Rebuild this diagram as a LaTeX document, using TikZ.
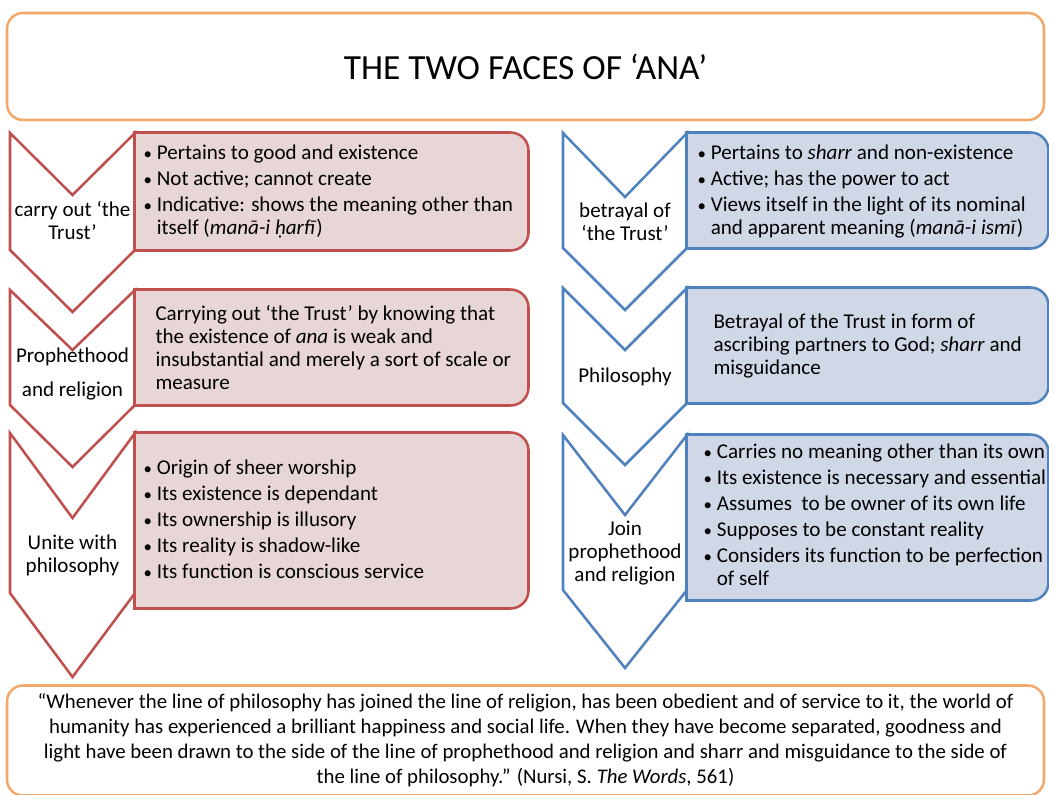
\documentclass[tikz,border=0pt]{standalone}
\usepackage{fontspec}
\setmainfont{Carlito}

\definecolor{chevred}{RGB}{192,80,77}
\definecolor{boxred}{RGB}{231,214,213}
\definecolor{chevblue}{RGB}{79,129,189}
\definecolor{boxblue}{RGB}{208,216,232}
\definecolor{frameorange}{RGB}{243,168,108}

\newcommand{\bodyfont}{\fontsize{15.8}{17.25}\selectfont}
\newcommand{\bitem}{\makebox[10pt][l]{\scalebox{0.8}{\textbullet}}}
\newcommand{\bcont}{\hspace*{10pt}}

\tikzset{
  every picture/.style={line width=0.75pt},
  redchev/.style={draw=chevred, line width=1.9pt, fill=white},
  bluechev/.style={draw=chevblue, line width=1.9pt, fill=white},
  redbox/.style={draw=chevred, line width=1.9pt, fill=boxred},
  bluebox/.style={draw=chevblue, line width=1.9pt, fill=boxblue},
  boxslot/.style={draw=none, inner sep=0pt},
  chevlabel/.style={align=center, inner sep=0pt, font=\bodyfont},
  boxtext/.style={anchor=west, align=left, inner sep=0pt, font=\bodyfont},
  framebox/.style={draw=frameorange, line width=1.9pt, fill=white, rounded corners=12pt, align=center, inner sep=0pt}
}

\begin{document}
\begin{tikzpicture}[x=0.75pt,y=0.75pt,yscale=-1,xscale=1]
\useasboundingbox (0,0) rectangle (1049,795);

% Title
\node[framebox, minimum width=777.75pt, minimum height=80.25pt, font=\fontsize{26.5}{30}\selectfont] (title) at (525.5,66.5) {THE TWO FACES OF ‘ANA’};

%Shape: left chevrons
\draw[redchev] (10,133) -- (72.5,195) -- (135,133) -- (135,250) -- (72.5,312) -- (10,250) -- cycle;
\draw[redchev] (10,290) -- (72.5,350) -- (135,290) -- (135,405) -- (72.5,467) -- (10,405) -- cycle;
\draw[redchev] (10,433) -- (72.5,518) -- (135,433) -- (135,593) -- (72.5,677) -- (10,593) -- cycle;
%Shape: right chevrons
\draw[bluechev] (563,133) -- (625,197) -- (687,133) -- (687,248) -- (625,310) -- (563,248) -- cycle;
\draw[bluechev] (563,288) -- (625,350) -- (687,288) -- (687,403) -- (625,465) -- (563,403) -- cycle;
\draw[bluechev] (563,435) -- (625,515) -- (687,435) -- (687,590) -- (625,668) -- (563,590) -- cycle;

%Shape: left boxes
\node[boxslot, minimum width=294.75pt, minimum height=87.75pt] (lbox1) at (331.5,191.5) {};
\node[boxslot, minimum width=294.75pt, minimum height=86.25pt] (lbox2) at (331.5,347.5) {};
\node[boxslot, minimum width=294.75pt, minimum height=131.25pt] (lbox3) at (331.5,520.5) {};
\foreach \b in {lbox1,lbox2,lbox3}
  \draw[redbox] (\b.south west) -- (\b.north west) [rounded corners=13.5pt] -- (\b.north east) -- (\b.south east) [sharp corners] -- cycle;
%Shape: right boxes
\node[boxslot, minimum width=270.75pt, minimum height=86.25pt] (rbox1) at (867.5,190.5) {};
\node[boxslot, minimum width=270.75pt, minimum height=86.25pt] (rbox2) at (867.5,345.5) {};
\node[boxslot, minimum width=270.75pt, minimum height=123.75pt] (rbox3) at (867.5,517.5) {};
\foreach \b in {rbox1,rbox2,rbox3}
  \draw[bluebox] (\b.south west) -- (\b.north west) [rounded corners=13.5pt] -- (\b.north east) -- (\b.south east) [sharp corners] -- cycle;

% Text Node
\node[chevlabel] (lchev1) at (72.5,220) {carry out ‘the\\Trust’};
\node[chevlabel] (lchev2) at (72.5,374) {Prophethood\\[8pt]and religion};
\node[chevlabel] (lchev3) at (72.5,555) {Unite with\\philosophy};
\node[chevlabel] (rchev1) at (625,221.5) {betrayal of\\‘the Trust’};
\node[chevlabel] (rchev2) at (625,377) {Philosophy};
\node[chevlabel] (rchev3) at (625,553) {Join\\prophethood\\and religion};

% Text Node
\node[boxtext] (ltext1) at (143,191.5) {\bitem Pertains to good and existence\\[2.25pt]
  \bitem Not active; cannot create\\[2.25pt]
  \bitem Indicative: shows the meaning other than\\
  \bcont itself (\textit{manā-i ḥarfī})};
\node[boxtext] (ltext2) at (155,347) {Carrying out ‘the Trust’ by knowing that\\
  the existence of \textit{ana} is weak and\\
  insubstantial and merely a sort of scale or\\
  measure};
\node[boxtext] (ltext3) at (143,519) {\bitem Origin of sheer worship\\[2.25pt]
  \bitem Its existence is dependant\\[2.25pt]
  \bitem Its ownership is illusory\\[2.25pt]
  \bitem Its reality is shadow-like\\[2.25pt]
  \bitem Its function is conscious service};
\node[boxtext] (rtext1) at (697,191) {\bitem Pertains to \textit{sharr} and non-existence\\[2.25pt]
  \bitem Active; has the power to act\\[2.25pt]
  \bitem Views itself in the light of its nominal\\
  \bcont and apparent meaning (\textit{manā-i ismī})};
\node[boxtext] (rtext2) at (713,346) {Betrayal of the Trust in form of\\
  ascribing partners to God; \textit{sharr} and\\
  misguidance};
\node[boxtext] (rtext3) at (703,515) {\bitem Carries no meaning other than its own\\[2.25pt]
  \bitem Its existence is necessary and essential\\[2.25pt]
  \bitem Assumes\ \ to be owner of its own life\\[2.25pt]
  \bitem Supposes to be constant reality\\[2.25pt]
  \bitem Considers its function to be perfection\\
  \bcont of self};

% Quote
\node[framebox, minimum width=777.75pt, minimum height=82.5pt, font=\fontsize{15.6}{18.75}\selectfont] (quote) at (525.5,740.5) {“Whenever the line of philosophy has joined the line of religion, has been obedient and of service to it, the world of\\
humanity has experienced a brilliant happiness and social life. When they have become separated, goodness and\\
light have been drawn to the side of the line of prophethood and religion and sharr and misguidance to the side of\\
the line of philosophy.” (Nursi, S. \textit{The Words}, 561)};

\end{tikzpicture}
\end{document}
